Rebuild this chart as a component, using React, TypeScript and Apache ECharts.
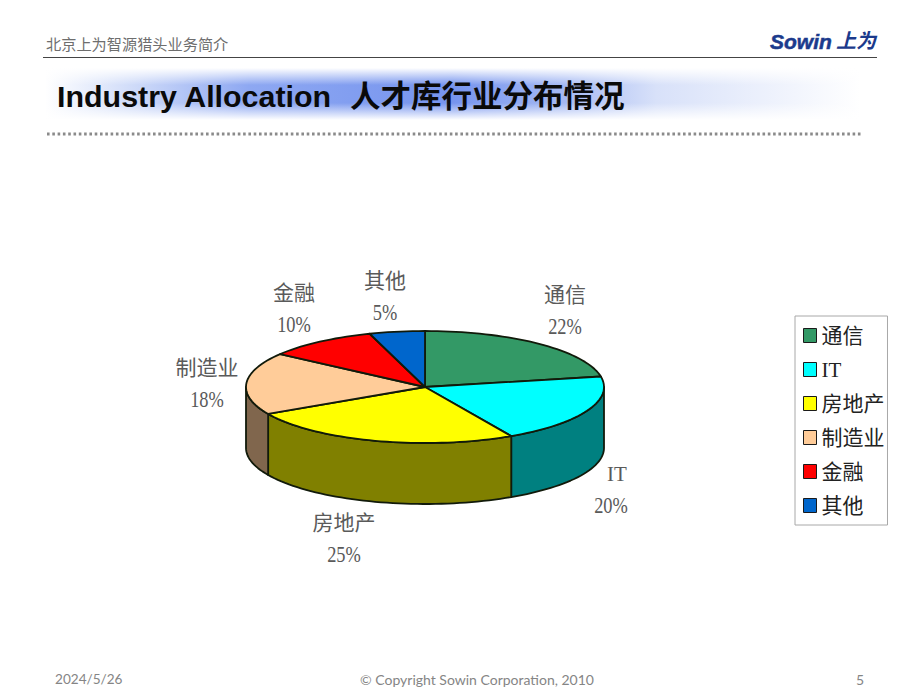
import React, { useEffect, useRef } from "react";
import * as echarts from "echarts";

const CATEGORIES = ["通信", "IT", "房地产", "制造业", "金融", "其他"];
const VALUES = [22, 20, 25, 18, 10, 5];
const TOP_COLORS = ["#339966", "#00FFFF", "#FFFF00", "#FFCC99", "#FF0000", "#0066CC"];
const SIDE_COLORS = ["#1A4D33", "#008080", "#808000", "#80664D", "#800000", "#003366"];

const HEADER_TEXT = "北京上为智源猎头业务简介";
const TITLE_LATIN = "Industry Allocation";
const TITLE_CJK = "人才库行业分布情况";
const FOOT_DATE = "2024/5/26";
const FOOT_COPY = "© Copyright Sowin Corporation, 2010";
const FOOT_PAGE = "5";

const SERIF = "'Liberation Serif','Noto Sans CJK SC'";
const SANS = "'Liberation Sans','Noto Sans CJK SC'";

const PIE = { cx: 425, cy: 387, rx: 179, ry: 56, depth: 61 };
const NAME_ANCHORS: number[][] = [
  [565, 295],
  [617, 474],
  [344, 523],
  [207, 368],
  [294, 293],
  [385, 281],
];
const PCT_ANCHORS: number[][] = [
  [565, 326],
  [611, 505],
  [344, 554],
  [207, 399],
  [294, 324],
  [385, 312],
];
const EDGE = "#111a0a";

function rim(deg: number, drop = 0) {
  const a = (deg * Math.PI) / 180;
  return [PIE.cx + PIE.rx * Math.sin(a), PIE.cy - PIE.ry * Math.cos(a) + drop];
}

function arc(from: number, to: number, drop = 0) {
  const pts: number[][] = [];
  const n = Math.max(2, Math.ceil((to - from) / 2));
  for (let i = 0; i <= n; i++) pts.push(rim(from + ((to - from) * i) / n, drop));
  return pts;
}

function makeSeries() {
  const total = VALUES.reduce((s, v) => s + v, 0);
  let running = 0;
  return CATEGORIES.map((name, idx) => {
    const before = running;
    running += VALUES[idx];
    return {
      type: "custom",
      name,
      coordinateSystem: "none",
      silent: true,
      z: 2,
      itemStyle: { color: TOP_COLORS[idx] },
      data: [VALUES[idx]],
      renderItem: (_p: any, api: any) => {
        const value = api.value(0) as number;
        const start = (before / total) * 360;
        const end = ((before + value) / total) * 360;
        const children: any[] = [];
        const s = Math.max(start, 90);
        const e = Math.min(end, 270);
        if (e > s) {
          children.push({
            type: "polygon",
            shape: { points: [...arc(s, e), ...arc(s, e, PIE.depth).reverse()] },
            style: { fill: SIDE_COLORS[idx], stroke: EDGE, lineWidth: 1.8, lineJoin: "round" },
          });
        }
        children.push({
          type: "polygon",
          shape: { points: [[PIE.cx, PIE.cy], ...arc(start, end)] },
          style: { fill: TOP_COLORS[idx], stroke: EDGE, lineWidth: 1.8, lineJoin: "round" },
        });
        children.push({
          type: "text",
          x: NAME_ANCHORS[idx][0],
          y: NAME_ANCHORS[idx][1],
          style: {
            text: name,
            align: "center",
            verticalAlign: "middle",
            fontFamily: SERIF,
            fontSize: 21,
            fill: "#5a5a5a",
          },
        });
        children.push({
          type: "text",
          x: PCT_ANCHORS[idx][0],
          y: PCT_ANCHORS[idx][1],
          scaleX: 0.8,
          style: {
            text: `${value}%`,
            align: "center",
            verticalAlign: "middle",
            fontFamily: SERIF,
            fontSize: 23,
            fill: "#5a5a5a",
          },
        });
        return { type: "group", children };
      },
    };
  });
}

const gradH = (stops: [number, string][]) => ({
  type: "linear", x: 0, y: 0, x2: 1, y2: 0,
  colorStops: stops.map(([offset, color]) => ({ offset, color })),
});
const gradV = (from: string, to: string) => ({
  type: "linear", x: 0, y: 0, x2: 0, y2: 1,
  colorStops: [{ offset: 0, color: from }, { offset: 1, color: to }],
});

const graphics: any[] = [
  { type: "text", x: 46, y: 44, style: { text: HEADER_TEXT, fontFamily: SERIF, fontSize: 15.2, fill: "#6e6e6e", verticalAlign: "middle" } },
  { type: "line", shape: { x1: 43, y1: 57.5, x2: 877, y2: 57.5 }, style: { stroke: "#444444", lineWidth: 1 } },
  { type: "text", x: 770, y: 41, style: { text: "Sowin", fontFamily: SANS, fontSize: 21, fontWeight: "bold", fontStyle: "italic", fill: "#1b3a8c", stroke: "#1b3a8c", lineWidth: 0.5, verticalAlign: "middle" } },
  { type: "text", x: 836, y: 41, style: { text: "上为", fontFamily: SANS, fontSize: 20, fontWeight: "bold", fontStyle: "italic", fill: "#1b3a8c", verticalAlign: "middle" } },
  {
    type: "rect", shape: { x: 45, y: 68, width: 815, height: 52 },
    style: {
      fill: gradH([
        [0, "#ffffff"], [0.1, "#d3def9"], [0.25, "#8ea8f2"], [0.5, "#7694ee"],
        [0.64, "#a6baf3"], [0.75, "#d8e1f9"], [0.92, "#f2f5fd"], [1, "#ffffff"],
      ]),
    },
  },
  { type: "rect", shape: { x: 45, y: 68, width: 815, height: 17 }, style: { fill: gradV("rgba(255,255,255,1)", "rgba(255,255,255,0)") } },
  { type: "rect", shape: { x: 45, y: 103, width: 815, height: 17 }, style: { fill: gradV("rgba(255,255,255,0)", "rgba(255,255,255,1)") } },
  { type: "text", x: 57, y: 96, style: { text: TITLE_LATIN, fontFamily: SANS, fontSize: 30.4, fontWeight: "bold", fill: "#0a0a0a", verticalAlign: "middle" } },
  { type: "text", x: 350, y: 96, style: { text: TITLE_CJK, fontFamily: SANS, fontSize: 30.5, fontWeight: "bold", fill: "#0a0a0a", verticalAlign: "middle" } },
  { type: "line", shape: { x1: 47, y1: 134, x2: 863, y2: 134 }, style: { stroke: "#8a8a8a", lineWidth: 3, lineDash: [2.6, 2.7] } },
  { type: "text", x: 55, y: 679, style: { text: FOOT_DATE, fontFamily: "Lato", fontSize: 13.6, fill: "#858585", verticalAlign: "middle" } },
  { type: "text", x: 477, y: 679, style: { text: FOOT_COPY, fontFamily: "Lato", fontSize: 14, fill: "#858585", align: "center", verticalAlign: "middle" } },
  { type: "text", x: 864, y: 679, style: { text: FOOT_PAGE, fontFamily: "Lato", fontSize: 14, fill: "#858585", align: "right", verticalAlign: "middle" } },
];

export default function App() {
  const ref = useRef<HTMLDivElement>(null);
  useEffect(() => {
    document.body.style.margin = "0";
    const chart = echarts.init(ref.current!, undefined, { renderer: "svg" });
    chart.setOption({
      animation: false,
      backgroundColor: "#ffffff",
      legend: {
        orient: "vertical",
        left: 795,
        top: 316,
        padding: [9, 3, 9, 8],
        data: CATEGORIES,
        icon: "rect",
        itemWidth: 13,
        itemHeight: 14,
        itemGap: 13,
        selectedMode: false,
        borderColor: "#a8a8a8",
        borderWidth: 1,
        itemStyle: { borderColor: "#1a1a1a", borderWidth: 1 },
        textStyle: { fontFamily: SERIF, fontSize: 21, color: "#222222", lineHeight: 21 },
      },
      graphic: { elements: graphics },
      series: makeSeries(),
    });
    return () => chart.dispose();
  }, []);
  return <div ref={ref} style={{ width: 920, height: 690 }} />;
}
